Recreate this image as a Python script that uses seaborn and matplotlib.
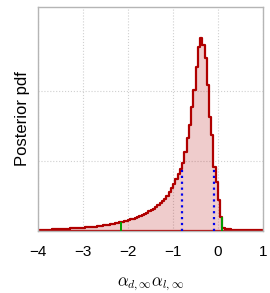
import numpy as np
import pandas as pd
import matplotlib
matplotlib.use("Agg")
import matplotlib.pyplot as plt
import seaborn as sns
from matplotlib.ticker import MultipleLocator

# binned posterior pdf, bins of 0.05 from -4 to 1
bin_edges = np.round(np.arange(-4.0, 1.0001, 0.05), 3)
pdf = [
    0.014, 0.016, 0.017, 0.019, 0.020, 0.021, 0.023, 0.024, 0.026, 0.027,
    0.029, 0.030, 0.031, 0.034, 0.036, 0.039, 0.040, 0.043, 0.046, 0.047,
    0.049, 0.051, 0.054, 0.057, 0.061, 0.064, 0.069, 0.073, 0.077, 0.081,
    0.086, 0.091, 0.097, 0.103, 0.109, 0.116, 0.123, 0.130, 0.139, 0.147,
    0.157, 0.166, 0.176, 0.186, 0.200, 0.214, 0.229, 0.243, 0.257, 0.279,
    0.300, 0.321, 0.343, 0.371, 0.400, 0.429, 0.464, 0.507, 0.557, 0.614,
    0.671, 0.743, 0.814, 0.886, 0.971, 1.129, 1.329, 1.514, 1.771, 2.014,
    2.343, 2.629, 2.757, 2.657, 2.471, 2.086, 1.629, 1.371, 0.914, 0.700,
    0.443, 0.200, 0.043, 0.029, 0.026, 0.023, 0.021, 0.020, 0.019, 0.017,
    0.016, 0.014, 0.013, 0.013, 0.011, 0.011, 0.010, 0.010, 0.009, 0.009,
]
ci68 = [-0.81, -0.08]
ci95 = [-2.15, 0.095]

df = pd.DataFrame({
    "x": (bin_edges[:-1] + bin_edges[1:]) / 2,
    "pdf": pdf,
})

sns.set_style("white")
plt.rcParams["font.family"] = ["Liberation Sans", "DejaVu Sans"]
plt.rcParams["mathtext.fontset"] = "cm"
plt.rcParams["text.color"] = "black"
plt.rcParams["axes.labelcolor"] = "black"
plt.rcParams["xtick.labelcolor"] = "black"

fig = plt.figure(figsize=(2.7, 2.93), dpi=100)
ax = fig.add_axes([0.141, 0.2116, 0.833, 0.7645])

sns.histplot(data=df, x="x", weights="pdf", bins=list(bin_edges), element="step",
             fill=True, color="#b00000", alpha=0.2, linewidth=1.6, ax=ax)


def height_at(x):
    i = np.searchsorted(bin_edges, x) - 1
    return pdf[i]


for x in ci68:
    ax.vlines(x, 0, height_at(x), colors="#0000ee", linestyles=":", lw=1.6, zorder=3)
for x in ci95:
    ax.vlines(x, 0, height_at(x), colors="#00a000", linestyles="-", lw=1.4, zorder=3)

ax.set_xlim(-4, 1)
ax.set_ylim(0, 3.2)
ax.set_xticks([-4, -3, -2, -1, 0, 1])
ax.xaxis.set_minor_locator(MultipleLocator(0.2))
ax.set_yticks([1, 2])
ax.set_yticklabels([])
ax.tick_params(axis="y", length=0)
ax.tick_params(axis="x", which="major", direction="in", length=3, color="#aaaaaa",
               labelsize=11, pad=10, labelcolor="black")
ax.tick_params(axis="x", which="minor", direction="in", length=2, color="#aaaaaa")
ax.grid(True, which="major", ls=":", color="#d0d0d0", lw=0.8)
for s in ax.spines.values():
    s.set_color("#b5b5b5")
    s.set_linewidth(1.0)

ax.set_ylabel("Posterior pdf", fontsize=12, labelpad=2, color="black")
ax.set_xlabel(r"$\alpha_{d,\infty}\alpha_{l,\infty}$", fontsize=12, labelpad=12,
              color="black")

fig.savefig("out.png", dpi=100)
